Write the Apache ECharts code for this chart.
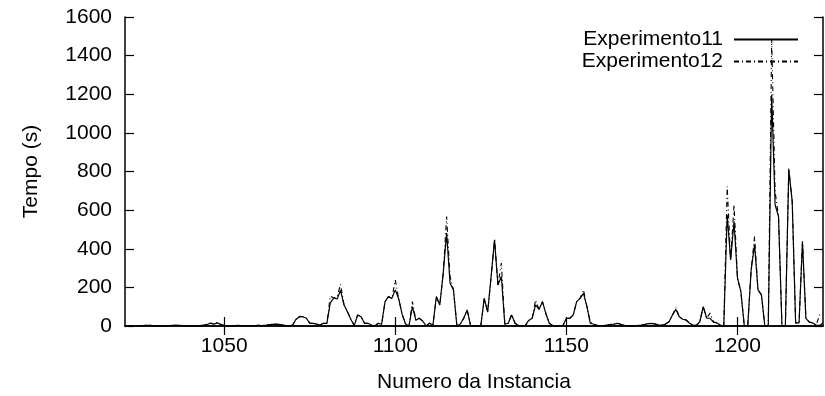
<!DOCTYPE html>
<html>
<head>
<meta charset="utf-8">
<script src="https://cdn.jsdelivr.net/npm/echarts@6/dist/echarts.min.js"></script>
<style>
html,body{margin:0;padding:0;background:#fff;}
#c{width:825px;height:396px;}
</style>
</head>
<body>
<div id="c"></div>
<script>
// Data
var firstInstance = 1021;
var experimento11 = [
  2,1,0,0,1,2,3,3,2,1,
  0,0,1,2,3,4,3,2,1,0,
  0,1,2,5,8,14,10,16,8,3,
  1,0,2,3,2,1,0,1,2,3,
  2,4,6,8,10,8,5,2,0,5,
  35,48,48,40,15,14,10,5,14,14,
  120,145,140,185,110,74,35,3,57,48,
  14,14,5,0,14,9,126,152,143,187,
  140,60,10,0,100,30,40,26,0,14,
  5,152,109,273,481,221,187,0,10,40,
  83,3,0,2,3,143,72,256,446,212,
  256,9,14,57,14,2,0,3,29,40,
  109,86,126,65,14,2,0,2,3,40,
  40,57,126,143,169,100,14,9,3,2,
  3,5,8,10,14,8,3,2,0,2,
  3,5,8,12,14,10,5,5,10,22,
  57,86,48,35,31,14,5,3,22,100,
  41,40,20,16,5,0,576,342,541,249,
  178,0,0,290,420,187,161,0,0,1198,
  628,567,0,0,809,645,16,16,437,40,
  20,16,5,3,15
];
var experimento12 = [
  2,1,0,0,1,2,3,3,2,1,
  0,0,1,2,3,4,3,2,1,0,
  0,1,2,5,8,16,10,18,8,3,
  1,0,2,3,2,1,0,1,2,3,
  2,4,6,8,10,8,5,2,0,5,
  35,50,48,40,15,14,10,5,14,14,
  155,145,150,216,110,74,35,3,57,48,
  14,14,5,0,14,9,126,152,143,238,
  140,60,10,0,126,30,40,26,0,14,
  5,152,109,273,567,255,187,0,10,40,
  83,3,0,2,3,143,72,256,446,212,
  326,9,14,60,14,2,0,3,29,40,
  135,86,126,65,14,2,0,2,3,40,
  40,57,126,143,187,100,20,9,3,2,
  3,5,8,10,14,8,3,2,0,2,
  3,5,8,12,14,10,5,5,10,22,
  57,95,48,35,31,14,5,3,22,100,
  41,67,20,16,5,0,723,342,628,249,
  178,0,0,290,463,187,161,0,0,1483,
  697,567,0,0,815,645,16,16,437,40,
  20,16,5,57,65
];
var xTicks = [1050, 1100, 1150, 1200];
var yMin = 0, yMax = 1600, yStep = 200;
var xMin = 1021, xMax = 1225;

function pairs(vals){
  var out = [];
  for (var i = 0; i < vals.length; i++) out.push([firstInstance + i, vals[i]]);
  return out;
}
function plain(v){ return String(v); }

var FONT = '"Liberation Sans", Arial, sans-serif';
var FS = 21;
var black = '#000';
var axisLineStyle = {color: black, width: 1.5};

var chart = echarts.init(document.getElementById('c'));
chart.setOption({
  animation: false,
  backgroundColor: '#fff',
  textStyle: {fontFamily: FONT, color: black},
  grid: {left: 125, right: 2, top: 17, bottom: 70, containLabel: false, outerBoundsMode: 'none'},
  legend: {
    orient: 'vertical', right: 21, top: 24, align: 'right',
    itemWidth: 64, itemHeight: 12, itemGap: 1,
    itemStyle: {opacity: 0},
    textStyle: {fontFamily: FONT, fontSize: FS, color: black, padding: [0, 6, 0, 0]},
    data: ['Experimento11', 'Experimento12']
  },
  xAxis: [{
    type: 'value', min: xMin, max: xMax, position: 'bottom',
    axisLine: {show: true, lineStyle: axisLineStyle},
    axisTick: {show: true, inside: true, length: 9, customValues: xTicks, lineStyle: {color: black, width: 1.2}},
    axisLabel: {customValues: xTicks, formatter: plain, fontSize: FS, color: black, fontFamily: FONT, margin: 10},
    splitLine: {show: false},
    name: 'Numero da Instancia', nameLocation: 'middle', nameGap: 46,
    nameTextStyle: {fontSize: FS, color: black, fontFamily: FONT}
  }, {
    type: 'value', min: xMin, max: xMax, position: 'top',
    axisLine: {show: true, lineStyle: axisLineStyle},
    axisTick: {show: true, inside: true, length: 9, customValues: xTicks, lineStyle: {color: black, width: 1.2}},
    axisLabel: {show: false},
    splitLine: {show: false}
  }],
  yAxis: [{
    type: 'value', min: yMin, max: yMax, interval: yStep, position: 'left',
    axisLine: {show: true, lineStyle: axisLineStyle},
    axisTick: {show: true, inside: true, length: 9, lineStyle: {color: black, width: 1.2}},
    axisLabel: {formatter: plain, fontSize: FS, color: black, fontFamily: FONT, margin: 13},
    splitLine: {show: false},
    name: 'Tempo (s)', nameLocation: 'middle', nameGap: 83, nameRotate: 90,
    nameTextStyle: {fontSize: FS, color: black, fontFamily: FONT}
  }, {
    type: 'value', min: yMin, max: yMax, interval: yStep, position: 'right',
    axisLine: {show: true, lineStyle: axisLineStyle},
    axisTick: {show: true, inside: true, length: 9, lineStyle: {color: black, width: 1.2}},
    axisLabel: {show: false},
    splitLine: {show: false}
  }],
  series: [{
    name: 'Experimento12', type: 'line', symbol: 'none',
    xAxisIndex: 0, yAxisIndex: 0,
    data: pairs(experimento12),
    lineStyle: {color: black, width: 1.1, type: [5, 3, 1, 3]},
    itemStyle: {color: black}
  }, {
    name: 'Experimento11', type: 'line', symbol: 'none',
    xAxisIndex: 0, yAxisIndex: 0,
    data: pairs(experimento11),
    lineStyle: {color: black, width: 1.2},
    itemStyle: {color: black}
  }]
});
</script>
</body>
</html>
